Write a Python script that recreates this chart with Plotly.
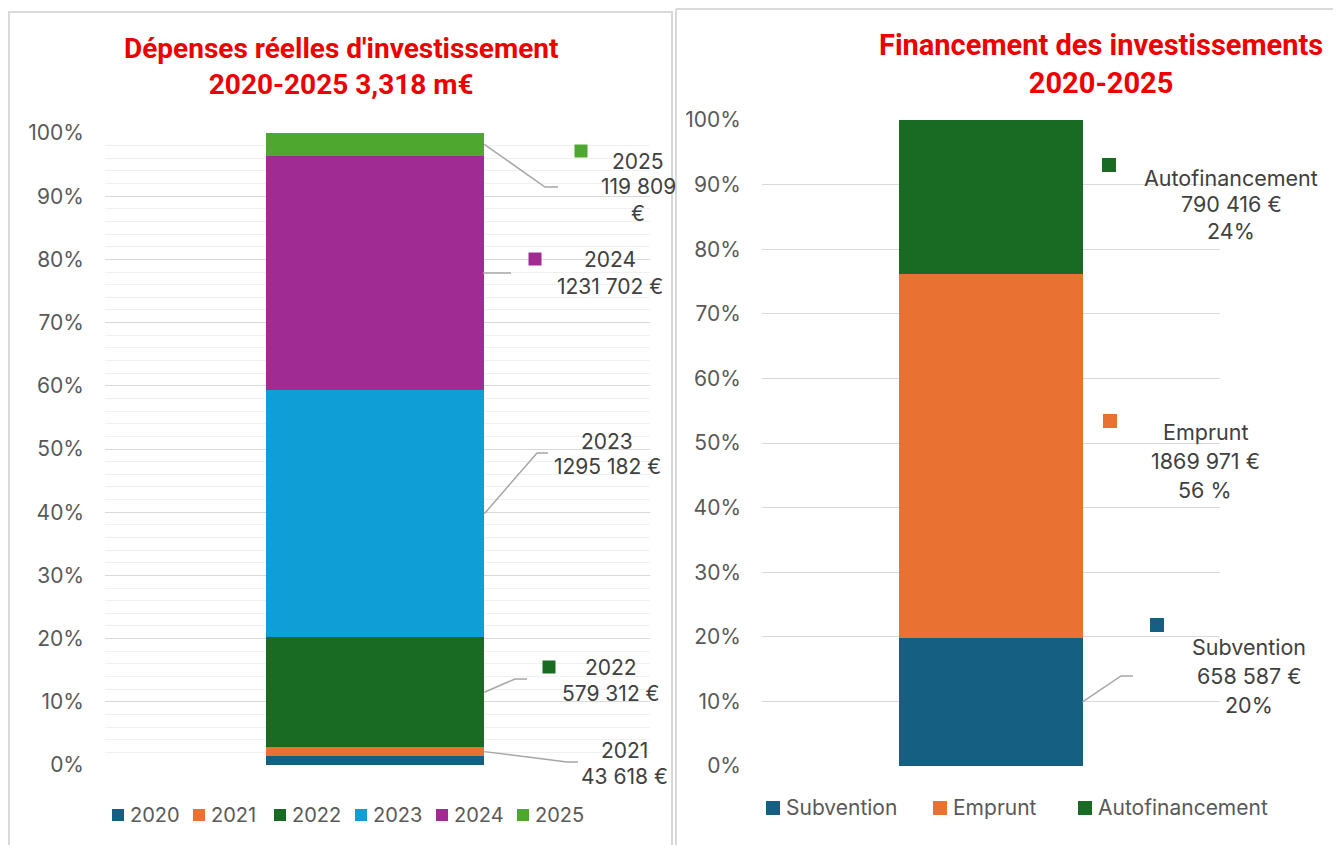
import plotly.graph_objects as go

# ---------------- data ----------------
years = ["2020", "2021", "2022", "2023", "2024", "2025"]
depenses = [48400, 43618, 579312, 1295182, 1231702, 119809]   # 2020 estimated (not labelled)
depense_labels = ["", "2021<br>43 618 €", "2022<br>579 312 €", "2023<br>1295 182 €",
                  "2024<br>1231 702 €", "2025<br>119 809<br>€"]

sources = ["Subvention", "Emprunt", "Autofinancement"]
financement = [658587, 1869971, 790416]
financement_labels = ["Subvention<br>658 587 €<br>20%", "Emprunt<br>1869 971 €<br>56 %",
                      "Autofinancement<br>790 416 €<br>24%"]

title_left = "Dépenses réelles d'investissement<br>2020-2025 3,318 m€"
title_right = "Financement des investissements<br>2020-2025"
y_ticks = [0, 10, 20, 30, 40, 50, 60, 70, 80, 90, 100]
y_ticktext = ["0%", "10%", "20%", "30%", "40%", "50%", "60%", "70%", "80%", "90%", "100%"]

# ---------------- styles ----------------
year_colors = ["#156082", "#E97132", "#196B24", "#0F9ED5", "#A02B93", "#4EA72E"]
source_colors = ["#156082", "#E97132", "#196B24"]
OX, OY = 8, 8                 # page body margin
FW, FH = 1341 - OX, 845 - OY  # figure size so page fits the window
FONT = "Inter, Open Sans, sans-serif"
TXT = "#404040"
TICK = "#595959"


def px(x):
    return (x - OX) / FW


def py(y):
    return 1 - (y - OY) / FH


fig = go.Figure()

for name, val, col in zip(years, depenses, year_colors):
    fig.add_trace(go.Bar(x=[0], y=[val], name=name, marker=dict(color=col, line=dict(width=0)),
                         width=0.4, xaxis="x", yaxis="y", hoverinfo="name+y"))

for name, val, col in zip(sources, financement, source_colors):
    fig.add_trace(go.Bar(x=[0], y=[val], name=name, marker=dict(color=col, line=dict(width=0)),
                         width=0.4, xaxis="x2", yaxis="y2", hoverinfo="name+y"))

# plot-area geometry (reference pixels); xlo = data value at left edge of plot area
L = dict(x0=105, x1=650, y0=765, y100=133, xlo=-0.496)
R = dict(x0=762, x1=1220, y0=766, y100=120, xlo=-0.5)


def ax_x(g, p):
    return g["xlo"] + (p - g["x0"]) / (g["x1"] - g["x0"])


def ax_y(g, p):
    return (g["y0"] - p) / (g["y0"] - g["y100"]) * 100


def mids(values):
    tot = sum(values)
    out, acc = [], 0
    for v in values:
        out.append((acc + v / 2) / tot * 100)
        acc += v
    return out


shapes = []
annotations = []


def text_lines(label, cx, cy, lh, size):
    for k, line in enumerate(label.split("<br>")):
        annotations.append(dict(text=line, x=px(cx), y=py(cy + k * lh), xref="paper", yref="paper",
                                xanchor="center", yanchor="middle", showarrow=False,
                                font=dict(family=FONT, size=size, color=TXT)))


def key_square(cx, cy, s, color):
    shapes.append(dict(type="rect", xref="paper", yref="paper",
                       x0=px(cx - s / 2), x1=px(cx + s / 2), y0=py(cy + s / 2), y1=py(cy - s / 2),
                       fillcolor=color, line=dict(width=0)))


def leader(axref, g, ym, elbow, xend):
    ex, ey = elbow
    pts = [(0.2, ym), (ax_x(g, ex), ax_y(g, ey)), (ax_x(g, xend), ax_y(g, ey))]
    shapes.append(dict(type="path", path="M {} {} L {} {} L {} {}".format(*[c for p in pts for c in p]),
                       xref="x" + axref, yref="y" + axref, line=dict(color="#a6a6a6", width=1.5)))


# ---- left labels ----
left_mid = mids(depenses)
left_lead = {1: ((567, 762), 578), 2: ((515, 679), 527), 3: ((537, 453), 548),
             4: ((483, 273), 511), 5: ((545, 187), 558)}
left_text = {1: (624, 750), 2: (611, 667), 3: (607, 441), 4: (610, 260), 5: (638, 161)}
left_keys = {2: (549, 667), 4: (535, 259), 5: (581, 151)}
for i, (elbow, xend) in left_lead.items():
    leader("", L, left_mid[i], elbow, xend)
for i, (cx, cy) in left_text.items():
    text_lines(depense_labels[i], cx, cy, 26, 21)
for i, (cx, cy) in left_keys.items():
    key_square(cx, cy, 13, year_colors[i])

# ---- right labels ----
right_mid = mids(financement)
right_text = {0: (1249, 647, 29), 1: (1205, 432, 29), 2: (1231, 178, 26.5)}
right_keys = {0: (1157, 625), 1: (1110, 421), 2: (1109, 165)}
leader("2", R, right_mid[0], (1121, 676), 1133)
for i, (cx, cy, lh) in right_text.items():
    text_lines(financement_labels[i], cx, cy, lh, 21.5)
for i, (cx, cy) in right_keys.items():
    key_square(cx, cy, 14, source_colors[i])

# ---- legends (Excel style: small square + label) ----
for i, (name, col) in enumerate(zip(years, year_colors)):
    x_sq = 112 + i * 81
    shapes.append(dict(type="rect", xref="paper", yref="paper", x0=px(x_sq), x1=px(x_sq + 12),
                       y0=py(821), y1=py(809), fillcolor=col, line=dict(width=0)))
    annotations.append(dict(text=name, x=px(x_sq + 16), y=py(815), xref="paper", yref="paper",
                            xanchor="left", yanchor="middle", showarrow=False,
                            font=dict(family=FONT, size=20, color=TICK)))
for name, col, x_sq in zip(sources, source_colors, [766, 933, 1078]):
    shapes.append(dict(type="rect", xref="paper", yref="paper", x0=px(x_sq), x1=px(x_sq + 14),
                       y0=py(815), y1=py(801), fillcolor=col, line=dict(width=0)))
    annotations.append(dict(text=name, x=px(x_sq + 18), y=py(807), xref="paper", yref="paper",
                            xanchor="left", yanchor="middle", showarrow=False,
                            font=dict(family=FONT, size=21, color=TICK)))

# ---- titles ----
TFONT = "Roboto, Arial, sans-serif"
for text, cx, cy, size in [(title_left, 341, 66, 28), (title_right, 1101, 64, 29)]:
    annotations.append(dict(text="<b>" + text + "</b>", x=px(cx), y=py(cy), xref="paper", yref="paper",
                            xanchor="center", yanchor="middle", showarrow=False, align="center",
                            font=dict(family=TFONT, size=size, color="#EE0000")))

# ---- panel borders ----
BORDER = "#d9d9d9"
shapes += [
    dict(type="rect", xref="paper", yref="paper", x0=px(9), x1=px(672), y0=py(850), y1=py(12),
         line=dict(color=BORDER, width=2), fillcolor="rgba(0,0,0,0)", layer="below"),
    dict(type="line", xref="paper", yref="paper", x0=px(676), x1=px(1345), y0=py(9), y1=py(9),
         line=dict(color=BORDER, width=2)),
    dict(type="line", xref="paper", yref="paper", x0=px(676), x1=px(676), y0=py(9), y1=py(850),
         line=dict(color=BORDER, width=2)),
]

yaxis_common = dict(range=[0, 100], tickvals=y_ticks, ticktext=y_ticktext, showline=False, zeroline=False,
                    gridcolor="#d9d9d9", gridwidth=1, ticks="", ticklabelstandoff=20, automargin=False,
                    tickfont=dict(family=FONT, size=21, color=TICK), fixedrange=True)

fig.update_layout(
    width=FW, height=FH, margin=dict(l=0, r=0, t=0, b=0, autoexpand=False),
    paper_bgcolor="white", plot_bgcolor="white", showlegend=False,
    barmode="stack", barnorm="percent", bargap=0,
    xaxis=dict(domain=[px(L["x0"]), px(L["x1"])], range=[L["xlo"], L["xlo"] + 1], visible=False,
               fixedrange=True),
    yaxis=dict(domain=[py(L["y0"]), py(L["y100"])],
               minor=dict(dtick=2, showgrid=True, gridcolor="#f0f0f0", gridwidth=1, ticks=""),
               **yaxis_common),
    xaxis2=dict(domain=[px(R["x0"]), px(R["x1"])], range=[R["xlo"], R["xlo"] + 1], visible=False,
                fixedrange=True, anchor="y2"),
    yaxis2=dict(domain=[py(R["y0"]), py(R["y100"])], anchor="x2", **yaxis_common),
    shapes=shapes, annotations=annotations,
)

fig.write_html("out.html")
